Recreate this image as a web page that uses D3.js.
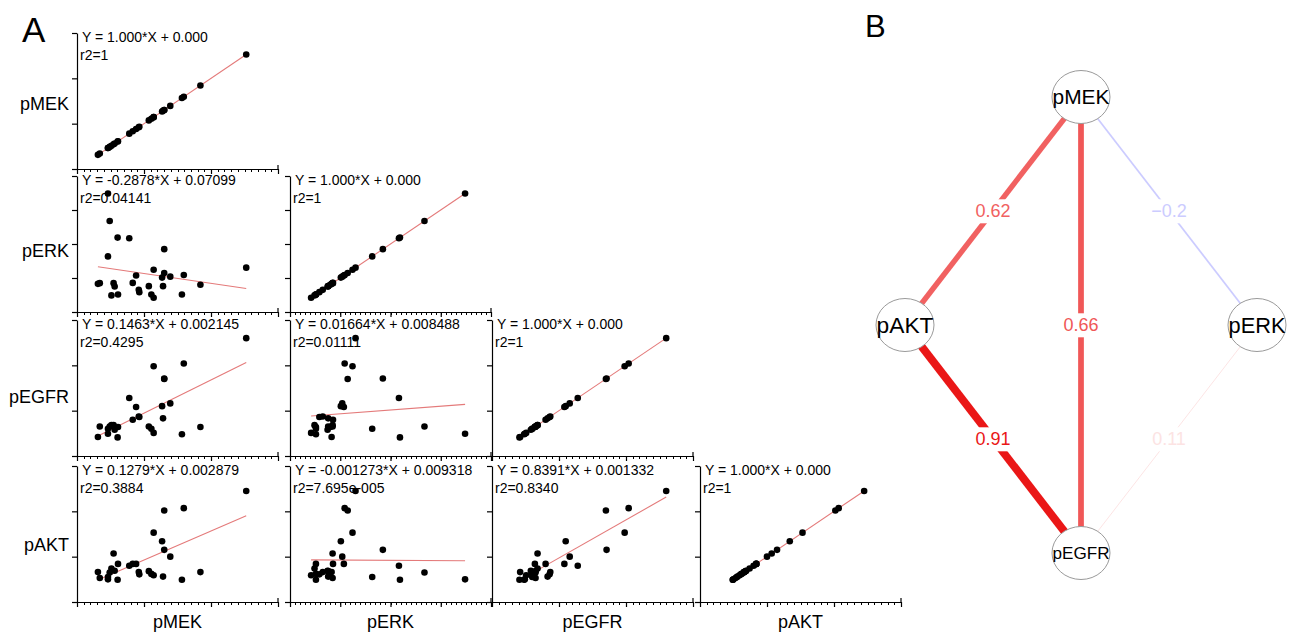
<!DOCTYPE html>
<html>
<head>
<meta charset="utf-8">
<script src="https://cdn.jsdelivr.net/npm/d3@7"></script>
<style>
  body { margin: 0; background: #fff; }
  svg { display: block; font-family: "Liberation Sans", Arial, Helvetica, sans-serif; }
</style>
</head>
<body>
<svg width="1298" height="633"></svg>
<script>
// Variables of the scatter matrix (rows = Y, columns = X)
const vars = ["pMEK", "pERK", "pEGFR", "pAKT"];
const axisMax = [0.15, 0.2, 0.03, 0.03];
const majorStep = [0.05, 0.05, 0.01, 0.01];

// one value per sample, same sample order in every array
const pMEK = [0.1263, 0.0921, 0.0797, 0.0783, 0.0696, 0.0651, 0.0651, 0.0635, 0.0642, 0.0572,
              0.0555, 0.0572, 0.0536, 0.0461, 0.0465, 0.0441, 0.0416, 0.0390, 0.0303, 0.0306,
              0.0273, 0.0281, 0.0257, 0.0244, 0.0231, 0.0231, 0.0156, 0.0170];
const pERK = [0.0652, 0.0400, 0.0544, 0.0258, 0.0520, 0.0924, 0.0574, 0.0506, 0.0380, 0.0622,
              0.0258, 0.0210, 0.0380, 0.0326, 0.0292, 0.0536, 0.0428, 0.1084, 0.1094, 0.0258,
              0.0424, 0.0374, 0.0244, 0.1338, 0.1742, 0.0818, 0.0414, 0.0424];
const pEGFR = [0.0260, 0.0064, 0.0204, 0.0048, 0.0116, 0.0171, 0.0170, 0.0110, 0.0083, 0.0198,
               0.0060, 0.0051, 0.0065, 0.0087, 0.0086, 0.0108, 0.0080, 0.0128, 0.0041, 0.0064,
               0.0068, 0.0058, 0.0068, 0.0065, 0.0049, 0.0060, 0.0042, 0.0065];
const pAKT = [0.0245, 0.0066, 0.0207, 0.0049, 0.0100, 0.0115, 0.0202, 0.0134, 0.0056, 0.0153,
              0.0062, 0.0059, 0.0068, 0.0066, 0.0061, 0.0084, 0.0084, 0.0080, 0.0049, 0.0084,
              0.0107, 0.0069, 0.0074, 0.0065, 0.0050, 0.0055, 0.0066, 0.0053];

// linear fits, one per panel of the lower triangle
const fitRow = [0, 1, 1, 2, 2, 2, 3, 3, 3, 3];
const fitCol = [0, 0, 1, 0, 1, 2, 0, 1, 2, 3];
const fitSlope = [1, -0.2878, 1, 0.1463, 0.01664, 1, 0.1279, -0.001273, 0.8391, 1];
const fitIntercept = [0, 0.07099, 0, 0.002145, 0.008488, 0, 0.002879, 0.009318, 0.001332, 0];
const fitEquation = ["Y = 1.000*X + 0.000", "Y = -0.2878*X + 0.07099", "Y = 1.000*X + 0.000",
                     "Y = 0.1463*X + 0.002145", "Y = 0.01664*X + 0.008488", "Y = 1.000*X + 0.000",
                     "Y = 0.1279*X + 0.002879", "Y = -0.001273*X + 0.009318", "Y = 0.8391*X + 0.001332",
                     "Y = 1.000*X + 0.000"];
const fitR2 = ["r2=1", "r2=0.04141", "r2=1", "r2=0.4295", "r2=0.01111", "r2=1",
               "r2=0.3884", "r2=7.695e-005", "r2=0.8340", "r2=1"];

// correlation network (panel B)
const nodeNames = ["pMEK", "pAKT", "pERK", "pEGFR"];
const nodeX = [0, -1, 1, 0];
const nodeY = [1, 0, 0, -1];
const edgeFrom = ["pMEK", "pMEK", "pMEK", "pAKT", "pERK"];
const edgeTo = ["pAKT", "pEGFR", "pERK", "pEGFR", "pEGFR"];
const edgeWeight = [0.62, 0.66, -0.2, 0.91, 0.11];

const svg = d3.select("svg");

// ---------- panel A: scatter matrix ----------
const colX = [77, 290, 492, 700], panelW = 201;
const rowTop = [33, 176, 320, 466], panelH = 136;
const rowLabelY = [110, 257, 403, 551];
const samples = pMEK.map((d, i) => [pMEK[i], pERK[i], pEGFR[i], pAKT[i]]);

const xScales = axisMax.map(m => d3.scaleLinear().domain([0, m]).range([0, panelW]));
const yScales = axisMax.map(m => d3.scaleLinear().domain([0, m]).range([panelH, 0]));
const ticksFor = (i, div) => d3.range(0, Math.round(axisMax[i] / majorStep[i] * div) + 1)
    .map(n => n * majorStep[i] / div);

fitRow.forEach((r, k) => {
    const c = fitCol[k];
    const x = xScales[c], y = yScales[r];
    const g = svg.append("g").attr("transform", `translate(${colX[c]},${rowTop[r]})`);

    // x axis: minor ticks, then the major axis
    g.append("g")
        .selectAll("line")
        .data(ticksFor(c, 10))
        .enter().append("line")
        .attr("x1", d => Math.round(x(d)) + 0.5)
        .attr("x2", d => Math.round(x(d)) + 0.5)
        .attr("y1", panelH)
        .attr("y2", panelH + 3)
        .attr("stroke", "#000")
        .attr("stroke-width", 1);
    g.append("g").attr("transform", `translate(0,${panelH})`)
        .call(d3.axisBottom(x).tickValues(ticksFor(c, 1)).tickSize(5).tickSizeOuter(0).tickFormat(""))
        .selectAll("path.domain, .tick line").attr("stroke-width", 1.2);
    g.append("line")
        .attr("x1", panelW).attr("x2", panelW)
        .attr("y1", panelH).attr("y2", panelH - 4)
        .attr("stroke", "#000")
        .attr("stroke-width", 1.2);

    // y axis
    g.append("g")
        .call(d3.axisLeft(y).tickValues(ticksFor(r, 1)).tickSize(5).tickSizeOuter(0).tickFormat(""))
        .selectAll("path.domain, .tick line").attr("stroke-width", 1.2);

    // fit line over the data range
    const [lo, hi] = d3.extent(samples, s => s[c]);
    g.append("line")
        .attr("x1", x(lo)).attr("y1", y(fitSlope[k] * lo + fitIntercept[k]))
        .attr("x2", x(hi)).attr("y2", y(fitSlope[k] * hi + fitIntercept[k]))
        .attr("stroke", "#e47a7a")
        .attr("stroke-width", 1.1);

    // points
    g.selectAll(".dot")
        .data(samples)
        .enter().append("circle")
        .attr("class", "dot")
        .attr("cx", s => x(s[c]))
        .attr("cy", s => y(s[r]))
        .attr("r", 3.3)
        .attr("fill", "#000");

    // equation text
    g.append("text").attr("x", 5).attr("y", 8.5)
        .style("font-size", "14px").text(fitEquation[k]);
    g.append("text").attr("x", 3).attr("y", 27)
        .style("font-size", "14px").text(fitR2[k]);
});

// row and column labels
svg.selectAll(".rowLabel")
    .data(vars)
    .enter().append("text")
    .attr("x", 69)
    .attr("y", (d, i) => rowLabelY[i])
    .attr("text-anchor", "end")
    .style("font-size", "18px")
    .text(d => d);

svg.selectAll(".colLabel")
    .data(vars)
    .enter().append("text")
    .attr("x", (d, i) => colX[i] + panelW / 2)
    .attr("y", 628)
    .attr("text-anchor", "middle")
    .style("font-size", "18px")
    .text(d => d);

svg.append("text").attr("x", 22).attr("y", 42).style("font-size", "35px").text("A");
svg.append("text").attr("x", 865).attr("y", 37).style("font-size", "31px").text("B");

// ---------- panel B: network ----------
const nx = d3.scaleLinear().domain([-1, 1]).range([905, 1257]);
const ny = d3.scaleLinear().domain([-1, 1]).range([553, 97]);
const edgeColor = d3.scaleLinear().domain([-1, 0, 1]).range(["#0000ff", "#ffffff", "#e80000"]);
const edgeWidth = d3.scaleLinear().domain([0, 1]).range([0, 8.7]);
const pos = name => {
    const i = nodeNames.indexOf(name);
    return [nx(nodeX[i]), ny(nodeY[i])];
};

const net = svg.append("g");
edgeFrom.forEach((f, i) => {
    const [x1, y1] = pos(f), [x2, y2] = pos(edgeTo[i]);
    net.append("line")
        .attr("x1", x1).attr("y1", y1).attr("x2", x2).attr("y2", y2)
        .attr("stroke", edgeColor(edgeWeight[i]))
        .attr("stroke-width", edgeWidth(Math.abs(edgeWeight[i])));
});

edgeFrom.forEach((f, i) => {
    const [x1, y1] = pos(f), [x2, y2] = pos(edgeTo[i]);
    const lg = net.append("g");
    const t = lg.append("text")
        .attr("x", (x1 + x2) / 2)
        .attr("y", (y1 + y2) / 2)
        .attr("text-anchor", "middle")
        .attr("dy", "0.35em")
        .attr("fill", edgeColor(edgeWeight[i]))
        .style("font-size", "18px")
        .text(String(edgeWeight[i]).replace("-", "\u2212"));
    const b = t.node().getBBox();
    lg.insert("rect", "text")
        .attr("x", b.x - 2).attr("y", b.y - 2)
        .attr("width", b.width + 4).attr("height", b.height + 4)
        .attr("fill", "#fff");
});

const nodes = net.selectAll(".node")
    .data(nodeNames)
    .enter().append("g")
    .attr("class", "node")
    .attr("transform", d => `translate(${pos(d)[0]},${pos(d)[1]})`);

nodes.append("ellipse")
    .attr("rx", 29).attr("ry", 26.5)
    .attr("fill", "#fff")
    .attr("stroke", "#9a9a9a")
    .attr("stroke-width", 1);

// labels scaled to a common width, as in the figure
nodes.append("text")
    .attr("text-anchor", "middle")
    .attr("dy", "0.35em")
    .style("font-size", "20px")
    .text(d => d)
    .each(function () {
        const w = this.getComputedTextLength();
        d3.select(this).style("font-size", (20 * 57 / w) + "px");
    });
</script>
</body>
</html>
